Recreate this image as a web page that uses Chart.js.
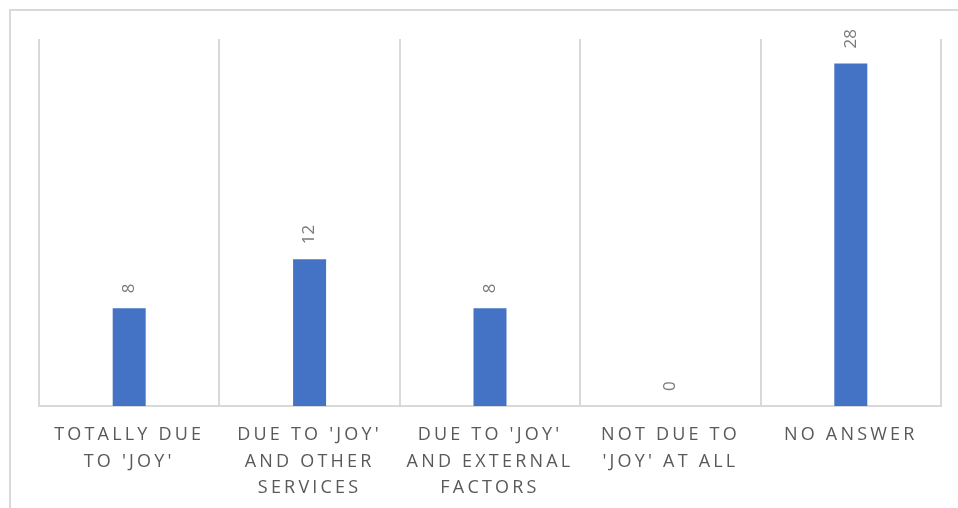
<!DOCTYPE html>
<html>
<head>
<meta charset="utf-8">
<script src="https://cdn.jsdelivr.net/npm/chart.js@4.4.1/dist/chart.umd.min.js"></script>
<style>
  html, body { margin: 0; padding: 0; background: #fff; overflow: hidden; }
  #frame {
    position: absolute; left: 9px; top: 9px; width: 1000px; height: 600px;
    border-top: 2px solid #d9d9d9; border-left: 2px solid #d9d9d9;
  }
  #wrap { position: absolute; left: 0; top: 0; width: 958px; height: 508px; }
</style>
</head>
<body>
<div id="frame"></div>
<div id="wrap"><canvas id="myChart"></canvas></div>
<script>
// categories, one array of lines per bar
const categories = [
  ["TOTALLY DUE", "TO 'JOY'"],
  ["DUE TO 'JOY'", "AND OTHER", "SERVICES"],
  ["DUE TO 'JOY'", "AND EXTERNAL", "FACTORS"],
  ["NOT DUE TO", "'JOY' AT ALL"],
  ["NO ANSWER"]
];
const answers = [8, 12, 8, 0, 28];
const yMax = 30;

const fontName = "'Open Sans', 'Noto Sans', sans-serif";

// letter spacing for the category labels
const spacing = {
  id: "spacing",
  beforeDraw(chart) { chart.ctx.letterSpacing = "3.2px"; },
  afterDraw(chart) { chart.ctx.letterSpacing = "0px"; }
};

// rotated value labels over the bars
const valueLabels = {
  id: "valueLabels",
  afterDatasetsDraw(chart) {
    const ctx = chart.ctx;
    const meta = chart.getDatasetMeta(0);
    ctx.save();
    ctx.letterSpacing = "0px";
    ctx.fillStyle = "#7a7a7a";
    ctx.font = "17px " + fontName;
    ctx.textAlign = "left";
    ctx.textBaseline = "middle";
    meta.data.forEach((bar, i) => {
      ctx.save();
      ctx.translate(bar.x, bar.y - 15);
      ctx.rotate(-Math.PI / 2);
      ctx.fillText(String(answers[i]), 0, 0);
      ctx.restore();
    });
    ctx.restore();
  }
};

const ctx = document.getElementById("myChart").getContext("2d");
new Chart(ctx, {
  type: "bar",
  data: {
    labels: categories,
    datasets: [{
      data: answers,
      backgroundColor: "#4472C4",
      borderWidth: 0,
      categoryPercentage: 1,
      barPercentage: 0.183
    }]
  },
  options: {
    responsive: true,
    maintainAspectRatio: false,
    animation: false,
    layout: { padding: { left: 39, top: 39, right: 17, bottom: 0 } },
    plugins: {
      legend: { display: false },
      tooltip: { enabled: false },
      title: { display: false }
    },
    scales: {
      x: {
        offset: true,
        grid: { color: "#d9d9d9", lineWidth: 2, offset: true, drawTicks: false },
        border: { color: "#d9d9d9", width: 2 },
        ticks: {
          color: "#595959",
          font: { family: fontName, size: 18, lineHeight: 1.47 },
          padding: 16,
          maxRotation: 0,
          minRotation: 0,
          autoSkip: false
        },
        afterFit(scale) { scale.height = 102; }
      },
      y: {
        display: false,
        min: 0,
        max: yMax
      }
    }
  },
  plugins: [spacing, valueLabels]
});
</script>
</body>
</html>
